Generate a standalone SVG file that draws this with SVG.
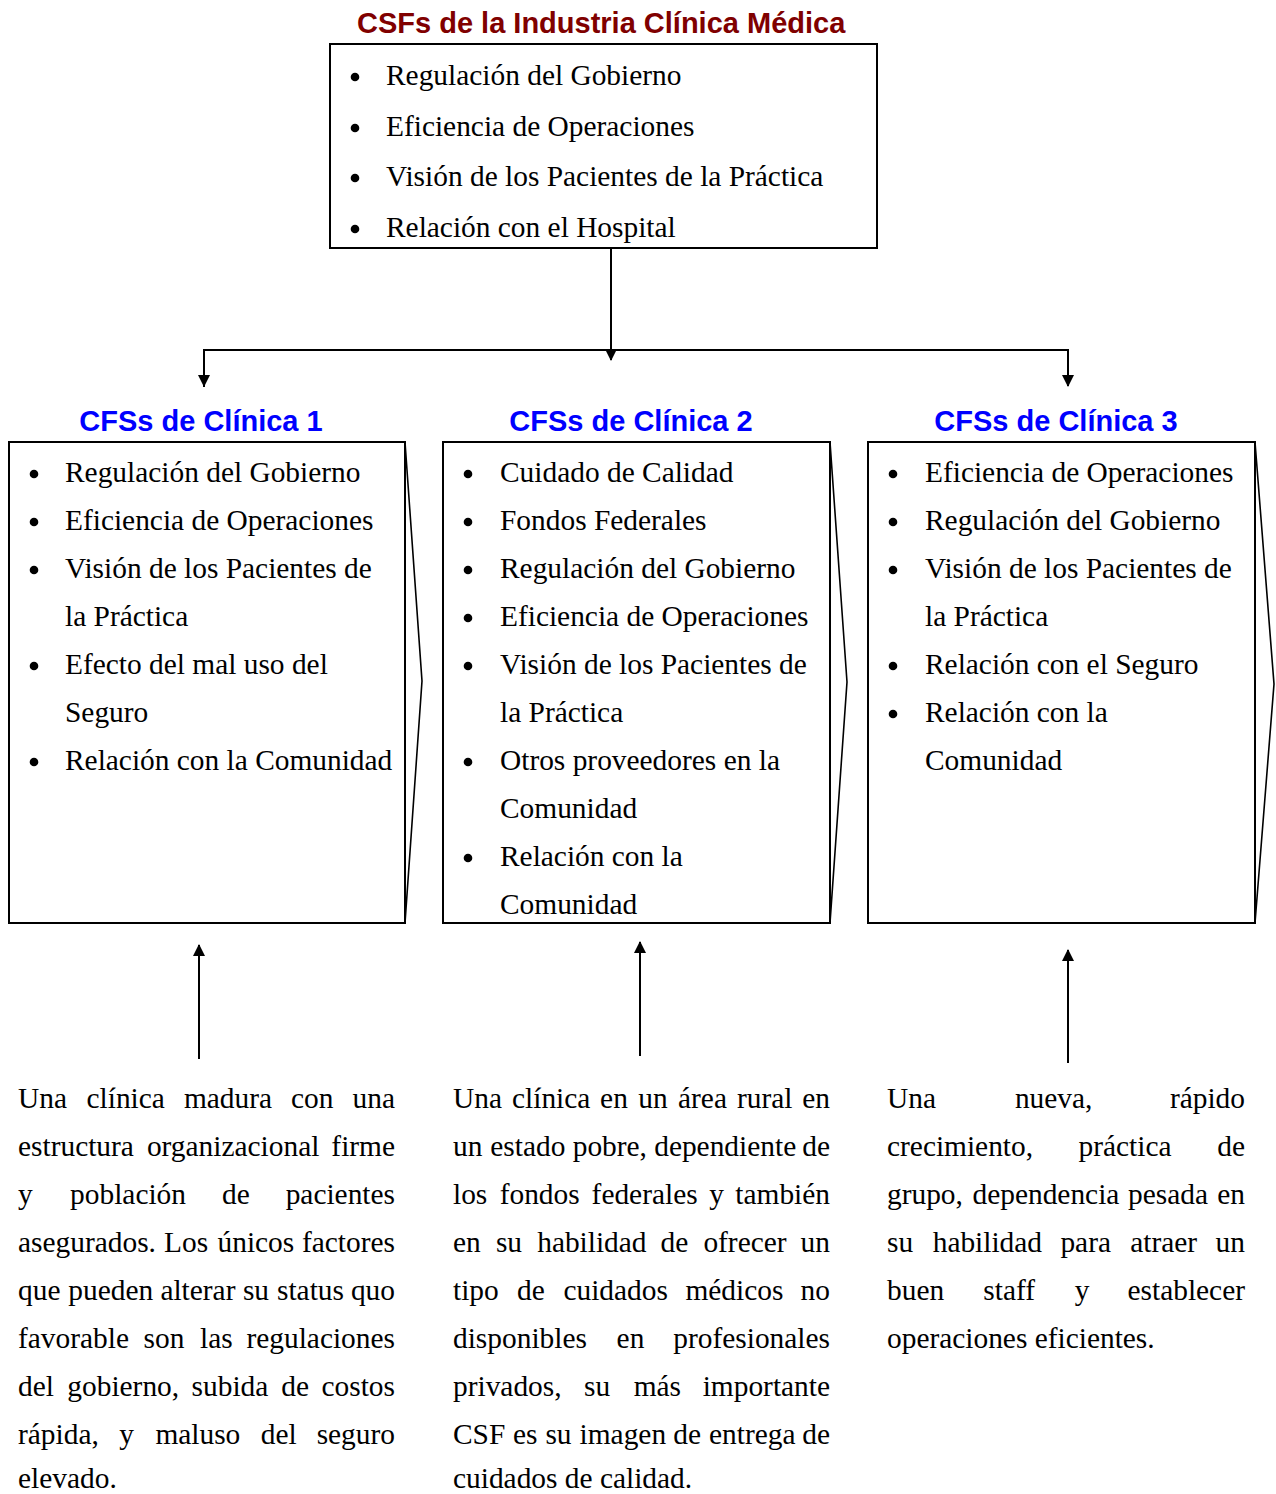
<svg xmlns="http://www.w3.org/2000/svg" width="1276" height="1494" viewBox="0 0 1276 1494">
  <style>
    .title { font-family: "Liberation Sans", Arial, sans-serif; font-weight: bold; font-size: 29px; fill: #800000; }
    .sub { font-family: "Liberation Sans", Arial, sans-serif; font-weight: bold; font-size: 29px; fill: #0000FF; text-anchor: middle; }
    .t { font-family: "Liberation Serif", "Times New Roman", serif; font-size: 29.4px; fill: #000; }
    .box { fill: #fff; stroke: #000; stroke-width: 2; }
    .chev { fill: none; stroke: #000; stroke-width: 1.6; stroke-linejoin: miter; }
    .line { fill: none; stroke: #000; stroke-width: 2; }
    .dot { fill: #000; }
  </style>
  <defs>
    <marker id="arrow" markerUnits="userSpaceOnUse" markerWidth="12" markerHeight="12" viewBox="0 0 12 12" refX="11" refY="6" orient="auto">
      <path d="M0,0 L12,6 L0,12 Z" fill="#000"/>
    </marker>
  </defs>
  <rect width="1276" height="1494" fill="#fff"/>

  <!-- industry-level factors -->
  <g id="industry">
    <text class="title" x="357" y="33">CSFs de la Industria Clínica Médica</text>
    <rect class="box" x="330" y="44" width="547" height="204"/>
    <circle class="dot" cx="355" cy="77" r="4.3"/>
    <circle class="dot" cx="355" cy="128" r="4.3"/>
    <circle class="dot" cx="355" cy="178" r="4.3"/>
    <circle class="dot" cx="355" cy="229" r="4.3"/>
    <text class="t" x="386" y="85">Regulación del Gobierno</text>
    <text class="t" x="386" y="136">Eficiencia de Operaciones</text>
    <text class="t" x="386" y="186">Visión de los Pacientes de la Práctica</text>
    <text class="t" x="386" y="237">Relación con el Hospital</text>
  </g>

  <!-- connectors -->
  <g id="connectors">
    <path class="line" d="M611,249 V360" marker-end="url(#arrow)"/>
    <path class="line" d="M204,387 V350 H1068 V386" marker-end="url(#arrow)"/>
    <path class="line" d="M204,350 V386" marker-end="url(#arrow)"/>
    <path class="line" d="M199,1059 V945" marker-end="url(#arrow)"/>
    <path class="line" d="M640,1056 V942" marker-end="url(#arrow)"/>
    <path class="line" d="M1068,1063 V950" marker-end="url(#arrow)"/>
  </g>

  <!-- clinic 1 -->
  <g id="clinic1">
    <text class="sub" x="201" y="431">CFSs de Clínica 1</text>
    <rect class="box" x="9" y="442" width="396" height="481"/>
    <path class="chev" d="M405,442 L422,681 L405,923"/>
    <circle class="dot" cx="34" cy="474" r="4.3"/>
    <circle class="dot" cx="34" cy="522" r="4.3"/>
    <circle class="dot" cx="34" cy="570" r="4.3"/>
    <circle class="dot" cx="34" cy="666" r="4.3"/>
    <circle class="dot" cx="34" cy="762" r="4.3"/>
    <text class="t" x="65" y="482">Regulación del Gobierno</text>
    <text class="t" x="65" y="530">Eficiencia de Operaciones</text>
    <text class="t" x="65" y="578">Visión de los Pacientes de</text>
    <text class="t" x="65" y="626">la Práctica</text>
    <text class="t" x="65" y="674">Efecto del mal uso del</text>
    <text class="t" x="65" y="722">Seguro</text>
    <text class="t" x="65" y="770">Relación con la Comunidad</text>
  </g>

  <!-- clinic 2 -->
  <g id="clinic2">
    <text class="sub" x="631" y="431">CFSs de Clínica 2</text>
    <rect class="box" x="443" y="442" width="387" height="481"/>
    <path class="chev" d="M830,442 L847,682 L830,923"/>
    <circle class="dot" cx="468" cy="474" r="4.3"/>
    <circle class="dot" cx="468" cy="522" r="4.3"/>
    <circle class="dot" cx="468" cy="570" r="4.3"/>
    <circle class="dot" cx="468" cy="618" r="4.3"/>
    <circle class="dot" cx="468" cy="666" r="4.3"/>
    <circle class="dot" cx="468" cy="762" r="4.3"/>
    <circle class="dot" cx="468" cy="858" r="4.3"/>
    <text class="t" x="500" y="482">Cuidado de Calidad</text>
    <text class="t" x="500" y="530">Fondos Federales</text>
    <text class="t" x="500" y="578">Regulación del Gobierno</text>
    <text class="t" x="500" y="626">Eficiencia de Operaciones</text>
    <text class="t" x="500" y="674">Visión de los Pacientes de</text>
    <text class="t" x="500" y="722">la Práctica</text>
    <text class="t" x="500" y="770">Otros proveedores en la</text>
    <text class="t" x="500" y="818">Comunidad</text>
    <text class="t" x="500" y="866">Relación con la</text>
    <text class="t" x="500" y="914">Comunidad</text>
  </g>

  <!-- clinic 3 -->
  <g id="clinic3">
    <text class="sub" x="1056" y="431">CFSs de Clínica 3</text>
    <rect class="box" x="868" y="442" width="387" height="481"/>
    <path class="chev" d="M1255,442 L1274,684 L1255,923"/>
    <circle class="dot" cx="893" cy="474" r="4.3"/>
    <circle class="dot" cx="893" cy="522" r="4.3"/>
    <circle class="dot" cx="893" cy="570" r="4.3"/>
    <circle class="dot" cx="893" cy="666" r="4.3"/>
    <circle class="dot" cx="893" cy="714" r="4.3"/>
    <text class="t" x="925" y="482">Eficiencia de Operaciones</text>
    <text class="t" x="925" y="530">Regulación del Gobierno</text>
    <text class="t" x="925" y="578">Visión de los Pacientes de</text>
    <text class="t" x="925" y="626">la Práctica</text>
    <text class="t" x="925" y="674">Relación con el Seguro</text>
    <text class="t" x="925" y="722">Relación con la</text>
    <text class="t" x="925" y="770">Comunidad</text>
  </g>

  <!-- description 1 (justified) -->
  <g id="desc1" class="t">
    <text y="1108"><tspan x="18">Una</tspan><tspan x="86.5">clínica</tspan><tspan x="183.9">madura</tspan><tspan x="291">con</tspan><tspan x="395" text-anchor="end">una</tspan></text>
    <text y="1156"><tspan x="18">estructura</tspan><tspan x="146.9">organizacional</tspan><tspan x="395" text-anchor="end">firme</tspan></text>
    <text y="1204"><tspan x="18">y</tspan><tspan x="70.1">población</tspan><tspan x="222.1">de</tspan><tspan x="395" text-anchor="end">pacientes</tspan></text>
    <text y="1252"><tspan x="18">asegurados.</tspan><tspan x="164.1">Los</tspan><tspan x="217.5">únicos</tspan><tspan x="395" text-anchor="end">factores</tspan></text>
    <text y="1300"><tspan x="18">que</tspan><tspan x="68.3">pueden</tspan><tspan x="160.4">alterar</tspan><tspan x="242.9">su</tspan><tspan x="277">status</tspan><tspan x="395" text-anchor="end">quo</tspan></text>
    <text y="1348"><tspan x="18">favorable</tspan><tspan x="143.6">son</tspan><tspan x="200.1">las</tspan><tspan x="395" text-anchor="end">regulaciones</tspan></text>
    <text y="1396"><tspan x="18">del</tspan><tspan x="67.3">gobierno,</tspan><tspan x="191.6">subida</tspan><tspan x="281.2">de</tspan><tspan x="395" text-anchor="end">costos</tspan></text>
    <text y="1444"><tspan x="18">rápida,</tspan><tspan x="119.3">y</tspan><tspan x="155.4">maluso</tspan><tspan x="260.7">del</tspan><tspan x="395" text-anchor="end">seguro</tspan></text>
    <text y="1488" x="18">elevado.</text>
  </g>

  <!-- description 2 (justified) -->
  <g id="desc2" class="t">
    <text y="1108"><tspan x="453">Una</tspan><tspan x="512">clínica</tspan><tspan x="600.1">en</tspan><tspan x="638.3">un</tspan><tspan x="678">área</tspan><tspan x="737">rural</tspan><tspan x="830" text-anchor="end">en</tspan></text>
    <text y="1156"><tspan x="453">un</tspan><tspan x="490.3">estado</tspan><tspan x="572.7">pobre,</tspan><tspan x="654.2">dependiente</tspan><tspan x="830" text-anchor="end">de</tspan></text>
    <text y="1204"><tspan x="453">los</tspan><tspan x="499.7">fondos</tspan><tspan x="591.6">federales</tspan><tspan x="709.2">y</tspan><tspan x="830" text-anchor="end">también</tspan></text>
    <text y="1252"><tspan x="453">en</tspan><tspan x="495.9">su</tspan><tspan x="537.2">habilidad</tspan><tspan x="660.5">de</tspan><tspan x="703.4">ofrecer</tspan><tspan x="830" text-anchor="end">un</tspan></text>
    <text y="1300"><tspan x="453">tipo</tspan><tspan x="517">de</tspan><tspan x="563.4">cuidados</tspan><tspan x="685.4">médicos</tspan><tspan x="830" text-anchor="end">no</tspan></text>
    <text y="1348"><tspan x="453">disponibles</tspan><tspan x="616.6">en</tspan><tspan x="830" text-anchor="end">profesionales</tspan></text>
    <text y="1396"><tspan x="453">privados,</tspan><tspan x="584">su</tspan><tspan x="633.7">más</tspan><tspan x="830" text-anchor="end">importante</tspan></text>
    <text y="1444"><tspan x="453">CSF</tspan><tspan x="512.9">es</tspan><tspan x="545.4">su</tspan><tspan x="579.6">imagen</tspan><tspan x="673.3">de</tspan><tspan x="709">entrega</tspan><tspan x="830" text-anchor="end">de</tspan></text>
    <text y="1488" x="453">cuidados de calidad.</text>
  </g>

  <!-- description 3 (justified) -->
  <g id="desc3" class="t">
    <text y="1108"><tspan x="887">Una</tspan><tspan x="1014.9">nueva,</tspan><tspan x="1245" text-anchor="end">rápido</tspan></text>
    <text y="1156"><tspan x="887">crecimiento,</tspan><tspan x="1078.5">práctica</tspan><tspan x="1245" text-anchor="end">de</tspan></text>
    <text y="1204"><tspan x="887">grupo,</tspan><tspan x="972.5">dependencia</tspan><tspan x="1128.1">pesada</tspan><tspan x="1245" text-anchor="end">en</tspan></text>
    <text y="1252"><tspan x="887">su</tspan><tspan x="932.7">habilidad</tspan><tspan x="1060.4">para</tspan><tspan x="1130.2">atraer</tspan><tspan x="1245" text-anchor="end">un</tspan></text>
    <text y="1300"><tspan x="887">buen</tspan><tspan x="983.3">staff</tspan><tspan x="1074.7">y</tspan><tspan x="1245" text-anchor="end">establecer</tspan></text>
    <text y="1348" x="887">operaciones eficientes.</text>
  </g>
</svg>
